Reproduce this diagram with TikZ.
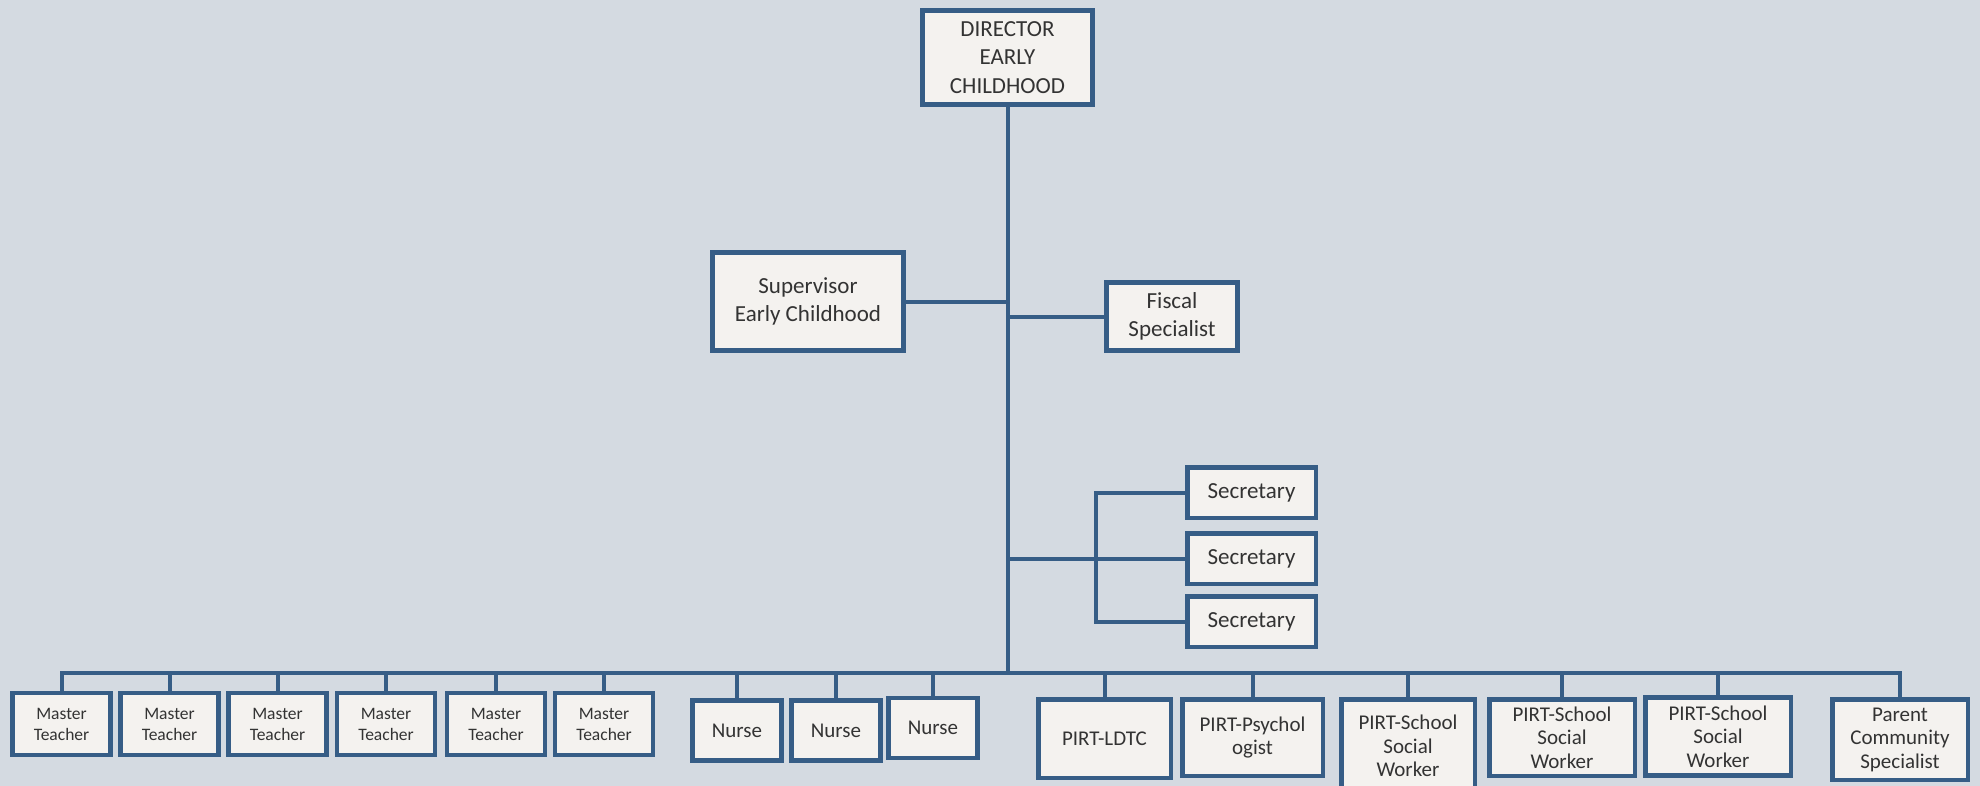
\documentclass[tikz,border=0pt]{standalone}
\usepackage{fontspec}
\setmainfont{Carlito}
\usepackage{tikz}
\usetikzlibrary{positioning,calc}
\definecolor{bluegray}{HTML}{D4DAE1}
\definecolor{linkblue}{HTML}{365D86}
\definecolor{offwhite}{HTML}{F4F2EF}
\definecolor{textgray}{HTML}{333333}

\begin{document}
\begin{tikzpicture}[x=1pt,y=-1pt,
  box/.style={draw=linkblue,line width=4.5pt,fill=offwhite,text=textgray,align=center,inner sep=0pt,font=\fontsize{23}{28.5}\selectfont},
  staff/.style={box,font=\fontsize{21}{23.5}\selectfont},
  teacher/.style={box,font=\fontsize{17.5}{21}\selectfont,minimum width=98pt,minimum height=62pt},
  nurse/.style={staff,minimum width=89pt,minimum height=60pt},
  link/.style={draw=linkblue,line width=4pt,line cap=rect}]
\fill[bluegray] (0,0) rectangle (1980,786);
\useasboundingbox (0,0) rectangle (1980,786);
\node[box,minimum width=170pt,minimum height=94pt] (director) at (1007.5,57.5) {DIRECTOR\\EARLY\\CHILDHOOD};
\node[box,minimum width=191pt,minimum height=98pt] (sup) at (808,301.5) {Supervisor\\Early Childhood};
\node[box,minimum width=131pt,minimum height=68pt] (fiscal) at (1172,316.5) {Fiscal\\Specialist};
\node[box,minimum width=128.5pt,minimum height=50.5pt] (sec1) at (1251.5,492.5) {Secretary};
\node[box,minimum width=128.5pt,minimum height=50.5pt,below=11pt of sec1] (sec2) {Secretary};
\node[box,minimum width=128.5pt,minimum height=50.5pt,below=8pt of sec2] (sec3) {Secretary};
\node[teacher] (mt1) at (61.5,724) {Master\\Teacher};
\node[teacher] (mt2) at (169.5,724) {Master\\Teacher};
\node[teacher] (mt3) at (277.5,724) {Master\\Teacher};
\node[teacher] (mt4) at (386,724) {Master\\Teacher};
\node[teacher] (mt5) at (496,724) {Master\\Teacher};
\node[teacher] (mt6) at (604,724) {Master\\Teacher};
\node[nurse] (nurse1) at (737,730.5) {Nurse};
\node[nurse] (nurse2) at (836,730.5) {Nurse};
\node[nurse] (nurse3) at (933,728) {Nurse};
\node[staff,minimum width=132.5pt,minimum height=78.5pt] (ldtc) at (1104.5,738.5) {PIRT-LDTC};
\node[staff,minimum width=140.5pt,minimum height=76.5pt] (psych) at (1252.5,737.5) {PIRT-Psychol\\ogist};
\node[staff,minimum width=133.5pt,minimum height=93.5pt] (social1) at (1408,746) {PIRT-School\\Social\\Worker};
\node[staff,minimum width=145.5pt,minimum height=76.5pt] (social2) at (1562,737.5) {PIRT-School\\Social\\Worker};
\node[staff,minimum width=145.5pt,minimum height=78pt] (social3) at (1718,736.5) {PIRT-School\\Social\\Worker};
\node[staff,minimum width=135.5pt,minimum height=80.5pt] (parent) at (1900,739.5) {Parent\\Community\\Specialist};
\coordinate (bus) at (0,673);
\draw[link] (director.south) -- (director.south |- bus);
\draw[link] (sup.east) -- (sup.east -| director.south);
\draw[link] (fiscal.west) -- (fiscal.west -| director.south);
\draw[link] (sec2.west) -- (sec2.west -| director.south);
\draw[link] (sec1.west) -- ++(-89pt,0) |- (sec3.west);
\draw[link] (mt1.north |- bus) -- (parent.north |- bus);
\draw[link] (mt1.north) -- (mt1.north |- bus); \draw[link] (mt2.north) -- (mt2.north |- bus);
\draw[link] (mt3.north) -- (mt3.north |- bus); \draw[link] (mt4.north) -- (mt4.north |- bus);
\draw[link] (mt5.north) -- (mt5.north |- bus); \draw[link] (mt6.north) -- (mt6.north |- bus);
\draw[link] (nurse1.north) -- (nurse1.north |- bus); \draw[link] (nurse2.north) -- (nurse2.north |- bus);
\draw[link] (nurse3.north) -- (nurse3.north |- bus); \draw[link] (ldtc.north) -- (ldtc.north |- bus);
\draw[link] (psych.north) -- (psych.north |- bus); \draw[link] (social1.north) -- (social1.north |- bus);
\draw[link] (social2.north) -- (social2.north |- bus); \draw[link] (social3.north) -- (social3.north |- bus);
\draw[link] (parent.north) -- (parent.north |- bus);
\end{tikzpicture}
\end{document}
